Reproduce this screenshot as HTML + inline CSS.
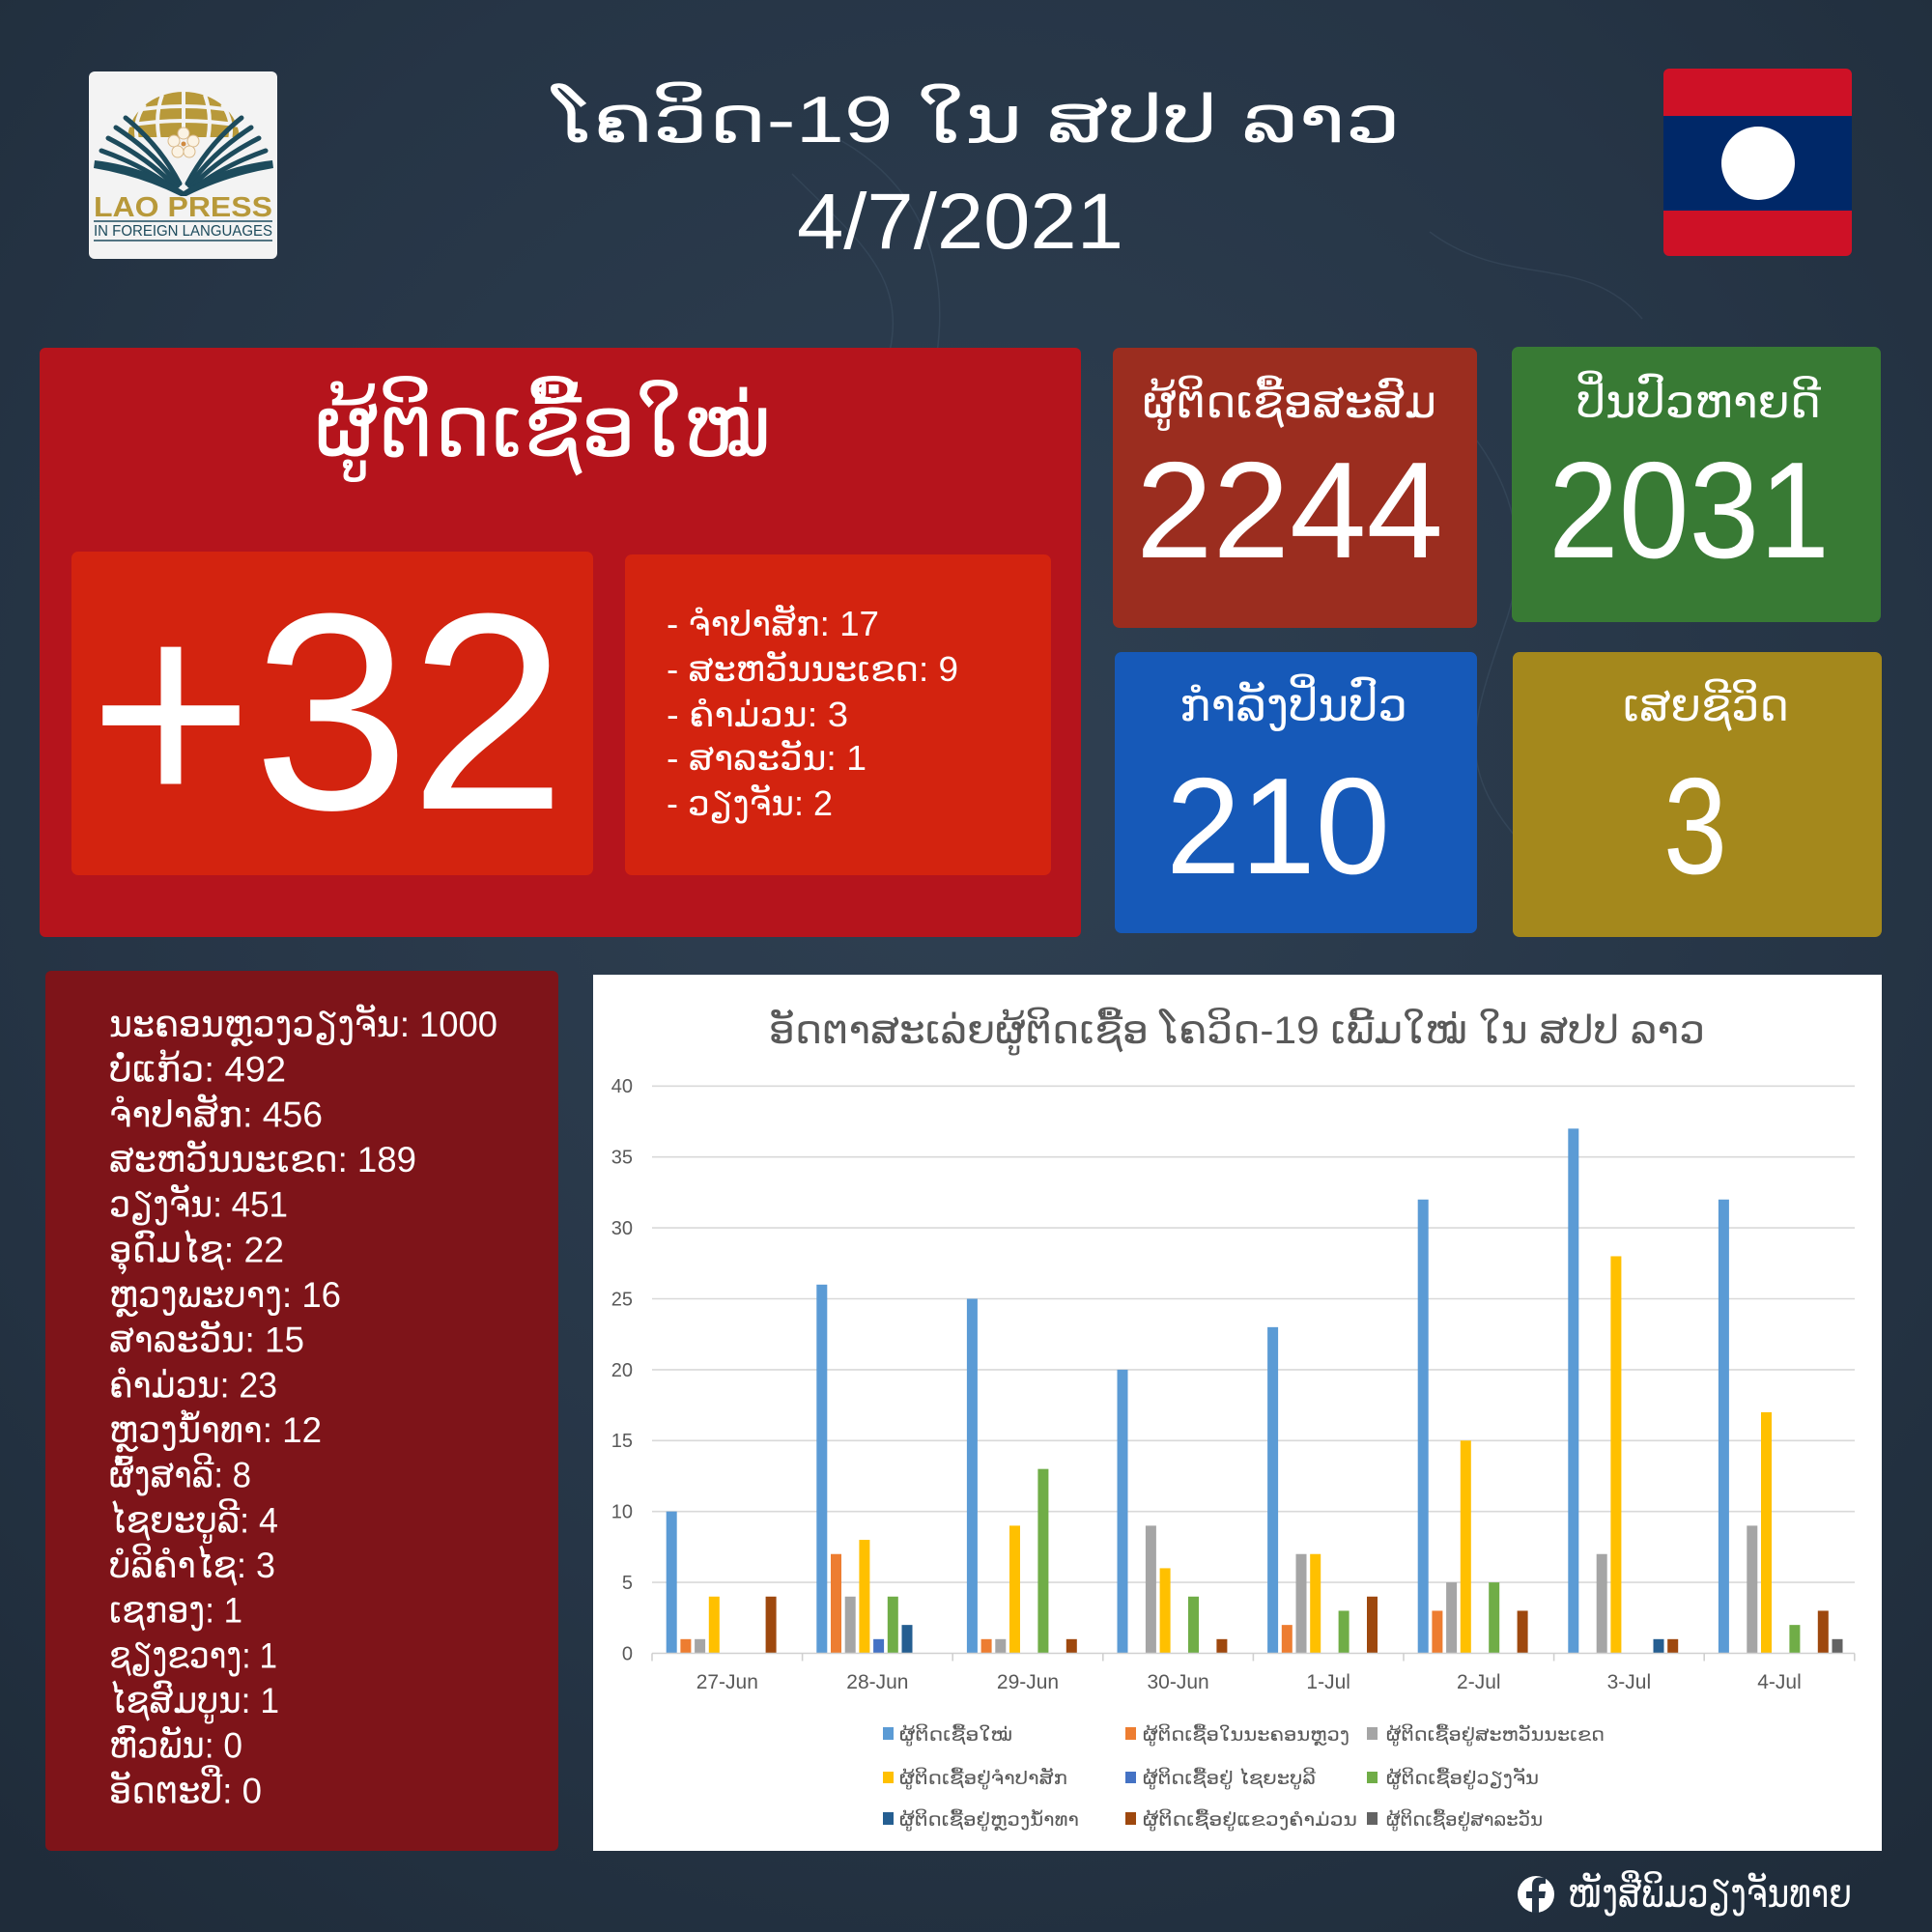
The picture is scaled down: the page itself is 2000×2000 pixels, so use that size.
<!DOCTYPE html>
<html>
<head>
<meta charset="utf-8">
<style>
html,body{margin:0;padding:0;background:#243343;}
svg{display:block;}
text{font-family:"Liberation Sans","DejaVu Sans",sans-serif;}
</style>
</head>
<body>
<svg width="2000" height="2000" viewBox="0 0 2000 2000" xmlns="http://www.w3.org/2000/svg">
<defs>
<radialGradient id="bg" cx="50%" cy="40%" r="75%">
<stop offset="0" stop-color="#2f4052"/>
<stop offset="0.6" stop-color="#263546"/>
<stop offset="1" stop-color="#1f2c3a"/>
</radialGradient>
<clipPath id="domeclip"><rect x="120" y="80" width="140" height="62"/></clipPath>
</defs>
<rect x="0" y="0" width="2000" height="2000" fill="url(#bg)"/>
<!-- faint network lines -->
<g fill="none" stroke="#8fb0cc" stroke-opacity="0.10" stroke-width="1.5">
<path d="M820 180 C 900 260, 960 300, 900 420 S 820 600, 950 720"/>
<path d="M860 140 C 980 200, 1000 330, 940 470"/>
<path d="M1450 380 C 1520 430, 1600 520, 1560 640 S 1500 800, 1600 900"/>
<path d="M380 400 C 420 520, 360 640, 450 760"/>
<path d="M1480 240 C 1560 300, 1640 260, 1700 330"/>
</g>

<!-- Logo -->
<rect x="92" y="74" width="195" height="194" rx="6" fill="#f3f3f3"/>
<g clip-path="url(#domeclip)">
<ellipse cx="190" cy="145" rx="58" ry="50" fill="#b8993a"/>
<g stroke="#f3f3f3" stroke-width="4" fill="none">
<path d="M190 95 L190 145"/>
<path d="M168 98 Q160 120 165 145"/>
<path d="M212 98 Q220 120 215 145"/>
<path d="M150 108 Q138 125 142 145"/>
<path d="M230 108 Q242 125 238 145"/>
<path d="M135 115 Q190 105 245 115"/>
<path d="M132 130 Q190 120 248 130"/>
</g>
</g>
<g stroke="#1d4b5c" stroke-width="5" fill="none" stroke-linecap="round">
<path d="M130 122 Q165 150 186 190"/>
<path d="M120 132 Q160 158 184 192"/>
<path d="M112 143 Q155 165 182 194"/>
<path d="M105 156 Q150 172 180 196"/>
<path d="M250 122 Q215 150 194 190"/>
<path d="M260 132 Q220 158 196 192"/>
<path d="M268 143 Q225 165 198 194"/>
<path d="M275 156 Q230 172 200 196"/>
</g>
<path d="M98 166 Q150 172 190 198 Q230 172 282 166 L283 174 Q235 182 193 203 L187 203 Q145 182 97 174 Z" fill="#1d4b5c"/>
<g fill="#fbf3e4" stroke="#d9b98a" stroke-width="1">
<circle cx="190" cy="138" r="6"/>
<circle cx="180" cy="146" r="6"/>
<circle cx="200" cy="146" r="6"/>
<circle cx="184" cy="157" r="6"/>
<circle cx="196" cy="157" r="6"/>
</g>
<circle cx="190" cy="149" r="2.5" fill="#d08a40"/>
<text x="97" y="224" font-size="29" font-weight="bold" fill="#b8993a" textLength="185" lengthAdjust="spacingAndGlyphs">LAO PRESS</text>
<line x1="97" y1="229" x2="282" y2="229" stroke="#1d4b5c" stroke-width="1.5"/>
<text x="97" y="244" font-size="15.5" fill="#1d4b5c" textLength="185" lengthAdjust="spacingAndGlyphs">IN FOREIGN LANGUAGES</text>
<line x1="97" y1="249" x2="282" y2="249" stroke="#1d4b5c" stroke-width="1.5"/>

<!-- Header title -->
<text x="572" y="147" font-size="68" fill="#ffffff" textLength="878" lengthAdjust="spacingAndGlyphs">ໂຄວິດ-19 ໃນ ສປປ ລາວ</text>
<text x="825" y="257" font-size="82" fill="#ffffff" textLength="338" lengthAdjust="spacingAndGlyphs">4/7/2021</text>

<!-- Flag -->
<rect x="1722" y="71" width="195" height="194" rx="6" fill="#ce1126"/>
<rect x="1722" y="120" width="195" height="98" fill="#002868"/>
<circle cx="1820" cy="169" r="38" fill="#ffffff"/>

<!-- Big red panel -->
<rect x="41" y="360" width="1078" height="610" rx="6" fill="#b5141c"/>
<text x="326" y="472" font-size="88" fill="#ffffff" textLength="472" lengthAdjust="spacingAndGlyphs">ຜູ້ຕິດເຊື້ອໃໝ່</text>
<rect x="74" y="571" width="540" height="335" rx="7" fill="#d3230f"/>
<text x="92" y="837" font-size="290" fill="#ffffff" textLength="494" lengthAdjust="spacingAndGlyphs">+32</text>
<rect x="647" y="574" width="441" height="332" rx="7" fill="#d3230f"/>
<g font-size="36" fill="#ffffff">
<text x="690" y="658" textLength="220" lengthAdjust="spacingAndGlyphs">- ຈຳປາສັກ: 17</text>
<text x="690" y="705" textLength="302" lengthAdjust="spacingAndGlyphs">- ສະຫວັນນະເຂດ: 9</text>
<text x="690" y="752" textLength="188" lengthAdjust="spacingAndGlyphs">- ຄຳມ່ວນ: 3</text>
<text x="690" y="797" textLength="207" lengthAdjust="spacingAndGlyphs">- ສາລະວັນ: 1</text>
<text x="690" y="844" textLength="172" lengthAdjust="spacingAndGlyphs">- ວຽງຈັນ: 2</text>
</g>

<!-- Stat boxes -->
<rect x="1152" y="360" width="377" height="290" rx="7" fill="#9b2d1f"/>
<text x="1183" y="432" font-size="46" fill="#ffffff" textLength="304" lengthAdjust="spacingAndGlyphs">ຜູ້ຕິດເຊື້ອສະສົມ</text>
<text x="1176" y="577" font-size="142" fill="#ffffff" textLength="318" lengthAdjust="spacingAndGlyphs">2244</text>

<rect x="1565" y="359" width="382" height="285" rx="7" fill="#387a34"/>
<text x="1632" y="432" font-size="46" fill="#ffffff" textLength="253" lengthAdjust="spacingAndGlyphs">ປິ່ນປົວຫາຍດີ</text>
<text x="1603" y="577" font-size="142" fill="#ffffff" textLength="291" lengthAdjust="spacingAndGlyphs">2031</text>

<rect x="1154" y="675" width="375" height="291" rx="7" fill="#1659b8"/>
<text x="1221" y="746" font-size="46" fill="#ffffff" textLength="236" lengthAdjust="spacingAndGlyphs">ກຳລັງປິ່ນປົວ</text>
<text x="1207" y="904" font-size="142" fill="#ffffff" textLength="232" lengthAdjust="spacingAndGlyphs">210</text>

<rect x="1566" y="675" width="382" height="295" rx="7" fill="#a4881c"/>
<text x="1680" y="746" font-size="46" fill="#ffffff" textLength="172" lengthAdjust="spacingAndGlyphs">ເສຍຊີວິດ</text>
<text x="1722" y="904" font-size="142" fill="#ffffff" textLength="66" lengthAdjust="spacingAndGlyphs">3</text>

<!-- Left list panel -->
<rect x="47" y="1005" width="531" height="911" rx="6" fill="#7e1419"/>
<g font-size="37" fill="#ffffff">
<text x="113" y="1073" textLength="402" lengthAdjust="spacingAndGlyphs">ນະຄອນຫຼວງວຽງຈັນ: 1000</text>
<text x="113" y="1119.7" textLength="183" lengthAdjust="spacingAndGlyphs">ບໍ່ແກ້ວ: 492</text>
<text x="113" y="1166.3" textLength="221" lengthAdjust="spacingAndGlyphs">ຈຳປາສັກ: 456</text>
<text x="113" y="1213" textLength="318" lengthAdjust="spacingAndGlyphs">ສະຫວັນນະເຂດ: 189</text>
<text x="113" y="1259.6" textLength="185" lengthAdjust="spacingAndGlyphs">ວຽງຈັນ: 451</text>
<text x="113" y="1306.3" textLength="181" lengthAdjust="spacingAndGlyphs">ອຸດົມໄຊ: 22</text>
<text x="113" y="1353" textLength="240" lengthAdjust="spacingAndGlyphs">ຫຼວງພະບາງ: 16</text>
<text x="113" y="1399.6" textLength="202" lengthAdjust="spacingAndGlyphs">ສາລະວັນ: 15</text>
<text x="113" y="1446.3" textLength="174" lengthAdjust="spacingAndGlyphs">ຄຳມ່ວນ: 23</text>
<text x="113" y="1493" textLength="220" lengthAdjust="spacingAndGlyphs">ຫຼວງນ້ຳທາ: 12</text>
<text x="113" y="1539.6" textLength="147" lengthAdjust="spacingAndGlyphs">ຜົ້ງສາລີ: 8</text>
<text x="113" y="1586.3" textLength="175" lengthAdjust="spacingAndGlyphs">ໄຊຍະບູລີ: 4</text>
<text x="113" y="1633" textLength="172" lengthAdjust="spacingAndGlyphs">ບໍລິຄຳໄຊ: 3</text>
<text x="113" y="1679.6" textLength="138" lengthAdjust="spacingAndGlyphs">ເຊກອງ: 1</text>
<text x="113" y="1726.3" textLength="174" lengthAdjust="spacingAndGlyphs">ຊຽງຂວາງ: 1</text>
<text x="113" y="1773" textLength="176" lengthAdjust="spacingAndGlyphs">ໄຊສົມບູນ: 1</text>
<text x="113" y="1819.6" textLength="138" lengthAdjust="spacingAndGlyphs">ຫົວພັນ: 0</text>
<text x="113" y="1866.3" textLength="158" lengthAdjust="spacingAndGlyphs">ອັດຕະປື: 0</text>
</g>

<!-- Chart panel -->
<rect x="614" y="1009" width="1334" height="907" fill="#ffffff"/>
<text x="796" y="1080" font-size="40" fill="#595959" textLength="969" lengthAdjust="spacingAndGlyphs">ອັດຕາສະເລ່ຍຜູ້ຕິດເຊື້ອ ໂຄວິດ-19 ເພີ້ມໃໝ່ ໃນ ສປປ ລາວ</text>

<!-- gridlines -->
<g stroke="#d9d9d9" stroke-width="1.6">
<line x1="675" y1="1124.3" x2="1920" y2="1124.3"/>
<line x1="675" y1="1197.7" x2="1920" y2="1197.7"/>
<line x1="675" y1="1271.1" x2="1920" y2="1271.1"/>
<line x1="675" y1="1344.5" x2="1920" y2="1344.5"/>
<line x1="675" y1="1417.9" x2="1920" y2="1417.9"/>
<line x1="675" y1="1491.3" x2="1920" y2="1491.3"/>
<line x1="675" y1="1564.7" x2="1920" y2="1564.7"/>
<line x1="675" y1="1638.1" x2="1920" y2="1638.1"/>
</g>
<g font-size="20" fill="#595959" text-anchor="end">
<text x="655" y="1131">40</text>
<text x="655" y="1204.5">35</text>
<text x="655" y="1278">30</text>
<text x="655" y="1351.5">25</text>
<text x="655" y="1425">20</text>
<text x="655" y="1498">15</text>
<text x="655" y="1571.5">10</text>
<text x="655" y="1645">5</text>
<text x="655" y="1718.5">0</text>
</g>

<!-- bars -->
<g transform="translate(0,1711.5) scale(1,-14.68)">
<!-- 27-Jun -->
<rect x="689.7" y="0" width="11" height="10" fill="#5b9bd5"/>
<rect x="704.4" y="0" width="11" height="1" fill="#ed7d31"/>
<rect x="719.1" y="0" width="11" height="1" fill="#a5a5a5"/>
<rect x="733.8" y="0" width="11" height="4" fill="#ffc000"/>
<rect x="792.6" y="0" width="11" height="4" fill="#9e480e"/>
<!-- 28-Jun -->
<rect x="845.3" y="0" width="11" height="26" fill="#5b9bd5"/>
<rect x="860.0" y="0" width="11" height="7" fill="#ed7d31"/>
<rect x="874.7" y="0" width="11" height="4" fill="#a5a5a5"/>
<rect x="889.4" y="0" width="11" height="8" fill="#ffc000"/>
<rect x="904.1" y="0" width="11" height="1" fill="#4472c4"/>
<rect x="918.8" y="0" width="11" height="4" fill="#70ad47"/>
<rect x="933.5" y="0" width="11" height="2" fill="#255e91"/>
<!-- 29-Jun -->
<rect x="1000.9" y="0" width="11" height="25" fill="#5b9bd5"/>
<rect x="1015.6" y="0" width="11" height="1" fill="#ed7d31"/>
<rect x="1030.3" y="0" width="11" height="1" fill="#a5a5a5"/>
<rect x="1045.0" y="0" width="11" height="9" fill="#ffc000"/>
<rect x="1074.4" y="0" width="11" height="13" fill="#70ad47"/>
<rect x="1103.8" y="0" width="11" height="1" fill="#9e480e"/>
<!-- 30-Jun -->
<rect x="1156.5" y="0" width="11" height="20" fill="#5b9bd5"/>
<rect x="1185.9" y="0" width="11" height="9" fill="#a5a5a5"/>
<rect x="1200.6" y="0" width="11" height="6" fill="#ffc000"/>
<rect x="1230.0" y="0" width="11" height="4" fill="#70ad47"/>
<rect x="1259.4" y="0" width="11" height="1" fill="#9e480e"/>
<!-- 1-Jul -->
<rect x="1312.1" y="0" width="11" height="23" fill="#5b9bd5"/>
<rect x="1326.8" y="0" width="11" height="2" fill="#ed7d31"/>
<rect x="1341.5" y="0" width="11" height="7" fill="#a5a5a5"/>
<rect x="1356.2" y="0" width="11" height="7" fill="#ffc000"/>
<rect x="1385.6" y="0" width="11" height="3" fill="#70ad47"/>
<rect x="1415.0" y="0" width="11" height="4" fill="#9e480e"/>
<!-- 2-Jul -->
<rect x="1467.7" y="0" width="11" height="32" fill="#5b9bd5"/>
<rect x="1482.4" y="0" width="11" height="3" fill="#ed7d31"/>
<rect x="1497.1" y="0" width="11" height="5" fill="#a5a5a5"/>
<rect x="1511.8" y="0" width="11" height="15" fill="#ffc000"/>
<rect x="1541.2" y="0" width="11" height="5" fill="#70ad47"/>
<rect x="1570.6" y="0" width="11" height="3" fill="#9e480e"/>
<!-- 3-Jul -->
<rect x="1623.3" y="0" width="11" height="37" fill="#5b9bd5"/>
<rect x="1652.7" y="0" width="11" height="7" fill="#a5a5a5"/>
<rect x="1667.4" y="0" width="11" height="28" fill="#ffc000"/>
<rect x="1711.5" y="0" width="11" height="1" fill="#255e91"/>
<rect x="1726.2" y="0" width="11" height="1" fill="#9e480e"/>
<!-- 4-Jul -->
<rect x="1778.9" y="0" width="11" height="32" fill="#5b9bd5"/>
<rect x="1808.3" y="0" width="11" height="9" fill="#a5a5a5"/>
<rect x="1823.0" y="0" width="11" height="17" fill="#ffc000"/>
<rect x="1852.4" y="0" width="11" height="2" fill="#70ad47"/>
<rect x="1881.8" y="0" width="11" height="3" fill="#9e480e"/>
<rect x="1896.5" y="0" width="11" height="1" fill="#636363"/>
</g>

<!-- x axis -->
<g stroke="#d0d0d0" stroke-width="1.6">
<line x1="675" y1="1711.5" x2="1920" y2="1711.5"/>
<line x1="675" y1="1711.5" x2="675" y2="1719.5"/>
<line x1="830.6" y1="1711.5" x2="830.6" y2="1719.5"/>
<line x1="986.2" y1="1711.5" x2="986.2" y2="1719.5"/>
<line x1="1141.8" y1="1711.5" x2="1141.8" y2="1719.5"/>
<line x1="1297.4" y1="1711.5" x2="1297.4" y2="1719.5"/>
<line x1="1453" y1="1711.5" x2="1453" y2="1719.5"/>
<line x1="1608.6" y1="1711.5" x2="1608.6" y2="1719.5"/>
<line x1="1764.2" y1="1711.5" x2="1764.2" y2="1719.5"/>
<line x1="1919.8" y1="1711.5" x2="1919.8" y2="1719.5"/>
</g>
<g font-size="21" fill="#595959" text-anchor="middle">
<text x="752.8" y="1748">27-Jun</text>
<text x="908.4" y="1748">28-Jun</text>
<text x="1064" y="1748">29-Jun</text>
<text x="1219.6" y="1748">30-Jun</text>
<text x="1375.2" y="1748">1-Jul</text>
<text x="1530.8" y="1748">2-Jul</text>
<text x="1686.4" y="1748">3-Jul</text>
<text x="1842" y="1748">4-Jul</text>
</g>

<!-- legend -->
<rect x="914" y="1788" width="11" height="13" fill="#5b9bd5"/>
<rect x="1165" y="1788" width="11" height="13" fill="#ed7d31"/>
<rect x="1415" y="1788" width="11" height="13" fill="#a5a5a5"/>
<rect x="914" y="1834" width="11" height="12" fill="#ffc000"/>
<rect x="1165" y="1834" width="11" height="12" fill="#4472c4"/>
<rect x="1415" y="1834" width="11" height="12" fill="#70ad47"/>
<rect x="914" y="1876" width="11" height="13" fill="#255e91"/>
<rect x="1165" y="1876" width="11" height="13" fill="#9e480e"/>
<rect x="1415" y="1876" width="11" height="13" fill="#636363"/>
<g font-size="19" fill="#595959">
<text x="931" y="1802" textLength="117" lengthAdjust="spacingAndGlyphs">ຜູ້ຕິດເຊື້ອໃໝ່</text>
<text x="1183" y="1802" textLength="214" lengthAdjust="spacingAndGlyphs">ຜູ້ຕິດເຊື້ອໃນນະຄອນຫຼວງ</text>
<text x="1435" y="1802" textLength="226" lengthAdjust="spacingAndGlyphs">ຜູ້ຕິດເຊື້ອຢູ່ສະຫວັນນະເຂດ</text>
<text x="931" y="1847" textLength="174" lengthAdjust="spacingAndGlyphs">ຜູ້ຕິດເຊື້ອຢູ່ຈຳປາສັກ</text>
<text x="1183" y="1847" textLength="179" lengthAdjust="spacingAndGlyphs">ຜູ້ຕິດເຊື້ອຢູ່ ໄຊຍະບູລີ</text>
<text x="1435" y="1847" textLength="158" lengthAdjust="spacingAndGlyphs">ຜູ້ຕິດເຊື້ອຢູ່ວຽງຈັນ</text>
<text x="931" y="1890" textLength="186" lengthAdjust="spacingAndGlyphs">ຜູ້ຕິດເຊື້ອຢູ່ຫຼວງນ້ຳທາ</text>
<text x="1183" y="1890" textLength="222" lengthAdjust="spacingAndGlyphs">ຜູ້ຕິດເຊື້ອຢູ່ແຂວງຄຳມ່ວນ</text>
<text x="1435" y="1890" textLength="162" lengthAdjust="spacingAndGlyphs">ຜູ້ຕິດເຊື້ອຢູ່ສາລະວັນ</text>
</g>

<!-- footer -->
<circle cx="1590" cy="1961" r="19" fill="#ffffff"/>
<path d="M1593 1980 L1593 1965 L1599 1965 L1600 1958 L1593 1958 L1593 1954 Q1593 1950 1597 1950 L1600 1950 L1600 1944 Q1597 1943.5 1594 1943.5 Q1586 1943.5 1586 1952 L1586 1958 L1580 1958 L1580 1965 L1586 1965 L1586 1980 Z" fill="#243446"/>
<text x="1623" y="1974" font-size="40" fill="#ffffff" textLength="294" lengthAdjust="spacingAndGlyphs">ໜັງສືພິມວຽງຈັນທາຍ</text>
</svg>
</body>
</html>
